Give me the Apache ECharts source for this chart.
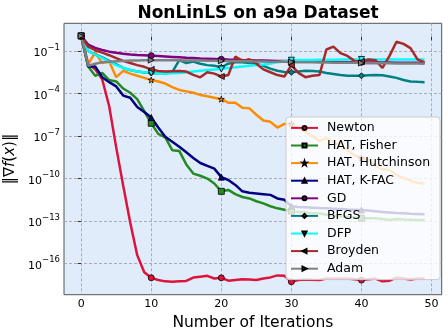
<!DOCTYPE html>
<html lang="en">
<head>
    <meta charset="UTF-8">
    <title>NonLinLS on a9a Dataset</title>
    <script src="https://cdn.jsdelivr.net/npm/echarts@6/dist/echarts.min.js"></script>
    <style>
        html, body { margin: 0; padding: 0; background: #fff; }
        #main { width: 448px; height: 336px; }
    </style>
</head>
<body>
    <div id="main"></div>
    <script>
        // log10 of the gradient norm, one value per iteration (0..49)
        var newton = [0.06, -1.9, -2.3, -3.0, -4.9, -7.8, -10.5, -13.1, -15.4, -16.6,
            -17.0, -17.15, -17.25, -17.28, -17.25, -17.22, -16.98, -16.92, -16.86, -17.05,
            -17.0, -17.2, -17.15, -17.1, -17.12, -17.16, -17.05, -16.97, -16.83, -16.85,
            -17.28, -17.15, -17.12, -17.14, -17.15, -17.05, -17.04, -17.05, -17.05, -17.1,
            -17.16, -17.1, -17.05, -17.25, -17.2, -16.98, -17.05, -17.12, -17.05, -17.04];
        var hatFisher = [0.06, -2.1, -2.75, -2.55, -3.05, -3.15, -3.65, -3.95, -4.4, -5.25,
            -6.1, -6.85, -7.1, -8.0, -8.05, -9.0, -9.65, -9.8, -10.0, -10.35,
            -10.9, -10.8, -11.1, -11.3, -11.4, -11.6, -11.75, -11.95, -12.1, -12.2,
            -12.3, -12.35, -12.4, -12.45, -12.45, -12.55, -12.6, -12.65, -12.7, -12.75,
            -12.8, -12.8, -12.8, -12.85, -12.92, -12.85, -12.88, -12.9, -12.92, -12.93];
        var hatHutchinson = [0.06, -1.95, -1.1, -1.85, -1.75, -2.85, -2.4, -2.6, -2.75, -2.9,
            -3.05, -3.15, -3.3, -3.55, -3.75, -3.85, -3.95, -4.1, -4.2, -4.3,
            -4.4, -4.65, -4.65, -5.0, -5.05, -5.5, -5.9, -6.0, -6.4, -6.15,
            -6.15, -6.45, -6.7, -7.0, -7.35, -7.15, -7.4, -7.7, -8.0, -8.35,
            -8.55, -8.7, -9.1, -9.35, -9.4, -9.75, -9.95, -10.15, -10.3, -10.35];
        var hatKfac = [0.06, -2.1, -2.1, -2.85, -3.2, -3.5, -4.15, -4.3, -4.95, -5.3,
            -5.7, -6.4, -7.05, -7.4, -7.75, -8.15, -8.55, -8.9, -9.1, -9.3,
            -9.9, -10.1, -10.45, -10.9, -11.0, -11.05, -11.1, -11.15, -11.4, -11.5,
            -11.95, -12.0, -12.02, -12.05, -12.08, -12.1, -12.12, -12.15, -12.18, -12.2,
            -12.22, -12.25, -12.3, -12.35, -12.4, -12.43, -12.45, -12.48, -12.5, -12.52];
        var gd = [0.06, -0.55, -0.78, -0.93, -1.05, -1.13, -1.2, -1.25, -1.29, -1.31,
            -1.33, -1.36, -1.39, -1.42, -1.45, -1.48, -1.5, -1.53, -1.55, -1.57,
            -1.59, -1.61, -1.62, -1.64, -1.65, -1.67, -1.68, -1.69, -1.7, -1.71,
            -1.72, -1.73, -1.74, -1.75, -1.76, -1.77, -1.77, -1.78, -1.79, -1.79,
            -1.8, -1.81, -1.81, -1.82, -1.82, -1.83, -1.83, -1.84, -1.84, -1.85];
        var bfgs = [0.06, -1.0, -1.25, -1.45, -1.7, -1.95, -2.2, -2.35, -2.45, -2.52,
            -2.55, -2.6, -2.6, -2.5, -1.65, -1.85, -1.75, -1.9, -2.0, -2.05,
            -2.15, -1.9, -1.8, -1.8, -1.85, -1.9, -2.05, -2.25, -2.4, -2.48,
            -2.5, -2.45, -2.4, -2.42, -2.45, -2.55, -2.62, -2.7, -2.75, -2.75,
            -2.75, -2.72, -2.7, -2.72, -2.8, -2.9, -3.05, -3.15, -3.18, -3.2];
        var dfp = [0.06, -1.0, -1.25, -1.5, -1.75, -2.0, -2.2, -2.35, -2.45, -2.5,
            -2.55, -2.6, -2.6, -2.58, -2.55, -2.5, -2.45, -2.4, -2.35, -2.3,
            -2.28, -2.2, -2.15, -2.1, -2.05, -2.0, -1.95, -1.88, -1.8, -1.72,
            -1.65, -1.64, -1.63, -1.63, -1.62, -1.62, -1.62, -1.61, -1.61, -1.61,
            -1.6, -1.6, -1.6, -1.6, -1.6, -1.6, -1.6, -1.6, -1.6, -1.6];
        var broyden = [0.06, -0.7, -0.95, -1.12, -1.3, -1.5, -1.7, -1.85, -2.0, -2.12,
            -2.3, -2.42, -2.45, -2.43, -2.42, -2.45, -2.69, -2.86, -2.5, -2.6,
            -2.8, -2.7, -1.4, -1.7, -1.58, -1.9, -2.3, -2.5, -2.7, -2.8,
            -2.0, -2.55, -2.85, -2.75, -2.7, -0.9, -0.7, -1.15, -1.35, -1.7,
            -1.75, -1.6, -1.65, -2.2, -1.35, -0.35, -0.5, -0.8, -1.6, -1.8];
        var adam = [0.06, -2.05, -1.9, -1.8, -1.76, -1.72, -1.7, -1.68, -1.67, -1.66,
            -1.65, -1.65, -1.65, -1.66, -1.66, -1.67, -1.67, -1.68, -1.69, -1.69,
            -1.7, -1.71, -1.72, -1.72, -1.73, -1.74, -1.75, -1.76, -1.77, -1.77,
            -1.78, -1.79, -1.8, -1.8, -1.81, -1.82, -1.83, -1.83, -1.84, -1.84,
            -1.85, -1.86, -1.86, -1.87, -1.87, -1.88, -1.88, -1.89, -1.89, -1.9];

        var names = ['Newton', 'HAT, Fisher', 'HAT, Hutchinson', 'HAT, K-FAC', 'GD', 'BFGS', 'DFP', 'Broyden', 'Adam'];
        var values = [newton, hatFisher, hatHutchinson, hatKfac, gd, bfgs, dfp, broyden, adam];
        var colors = ['#dc143c', '#228b22', '#ff8c00', '#000080', '#800080', '#008080', '#00ffff', '#a52a2a', '#808080'];
        var star = 'path://M0,-1L0.223,-0.307L0.951,-0.309L0.361,0.117L0.588,0.809L0,0.38L-0.588,0.809L-0.361,0.117L-0.951,-0.309L-0.223,-0.307Z';
        var symbols = ['circle', 'rect', star, 'triangle', 'circle',
            'path://M0,-1L1,0L0,1L-1,0Z', 'path://M-1,-1L1,-1L0,1Z',
            'path://M-1,0L1,-1L1,1Z', 'path://M1,0L-1,-1L-1,1Z'];
        var xTicks = [0, 10, 20, 30, 40, 50];
        var yTicks = [-16, -13, -10, -7, -4, -1];

        var font = 'DejaVu Sans';
        var chart = echarts.init(document.getElementById('main'));

        var series = names.map(function (name, k) {
            return {
                name: name,
                type: 'line',
                symbol: symbols[k],
                symbolSize: 6,
                data: values[k].map(function (v, i) {
                    var item = { value: [i, v] };
                    if (i % 10 !== 0) item.symbol = 'none';
                    return item;
                }),
                lineStyle: { color: colors[k], width: 2.5 },
                itemStyle: { color: colors[k], borderColor: '#000', borderWidth: 0.8 },
                emphasis: { disabled: true }
            };
        });

        chart.setOption({
            animation: false,
            title: {
                text: 'NonLinLS on a9a Dataset',
                left: 253, top: 0, textAlign: 'center',
                textStyle: { fontFamily: font, fontSize: 17, fontWeight: 'bold', color: '#000' }
            },
            grid: {
                left: 64, right: 6.3, top: 23.3, bottom: 41.3,
                outerBoundsMode: 'none',
                show: true, backgroundColor: '#e1ecfb', borderColor: '#555', borderWidth: 1
            },
            legend: {
                orient: 'vertical',
                left: 286, top: 117,
                data: names,
                itemWidth: 27, itemHeight: 5, itemGap: 4.6,
                padding: [4.4, 10, 4.4, 4],
                backgroundColor: 'rgba(255,255,255,0.8)',
                borderColor: '#ccc', borderWidth: 1, borderRadius: 3,
                textStyle: { fontFamily: font, fontSize: 12.5, color: '#000', padding: [0, 0, 0, 4] }
            },
            xAxis: {
                type: 'value', min: -2.45, max: 51.45,
                name: 'Number of Iterations', nameLocation: 'middle', nameGap: 20,
                nameTextStyle: { fontFamily: font, fontSize: 15.5, color: '#000' },
                axisLine: { show: false },
                axisTick: { show: true, length: 3.5, customValues: xTicks, lineStyle: { color: '#333' } },
                axisLabel: { customValues: xTicks, margin: 4, fontFamily: font, fontSize: 11, color: '#000' },
                splitLine: { show: true, lineStyle: { color: '#9a9aa8', type: [3, 2], width: 0.8 } }
            },
            yAxis: {
                type: 'value', min: -18.19, max: 0.95,
                name: '{a|\u2016\u2207}{i|f}{a|(}{i|x}{a|)\u2016}', nameLocation: 'middle', nameGap: 44, nameRotate: 90,
                nameTextStyle: {
                    fontFamily: font, fontSize: 15, color: '#000',
                    rich: {
                        a: { fontFamily: font, fontSize: 15, color: '#000' },
                        i: { fontFamily: font, fontSize: 15, color: '#000', fontStyle: 'italic' }
                    }
                },
                axisLine: { show: false },
                axisTick: { show: true, length: 3.5, customValues: yTicks, lineStyle: { color: '#333' } },
                axisLabel: {
                    customValues: yTicks, margin: 4,
                    formatter: function (v) { return '{b|10}{s|\u2212' + Math.round(-v) + '}'; },
                    rich: {
                        b: { fontFamily: font, fontSize: 11, color: '#000', lineHeight: 16, verticalAlign: 'bottom' },
                        s: { fontFamily: font, fontSize: 8.5, color: '#000', lineHeight: 16, verticalAlign: 'top' }
                    }
                },
                splitLine: { show: true, lineStyle: { color: '#9a9aa8', type: [3, 2], width: 0.8 } }
            },
            series: series
        });
    </script>
</body>
</html>
